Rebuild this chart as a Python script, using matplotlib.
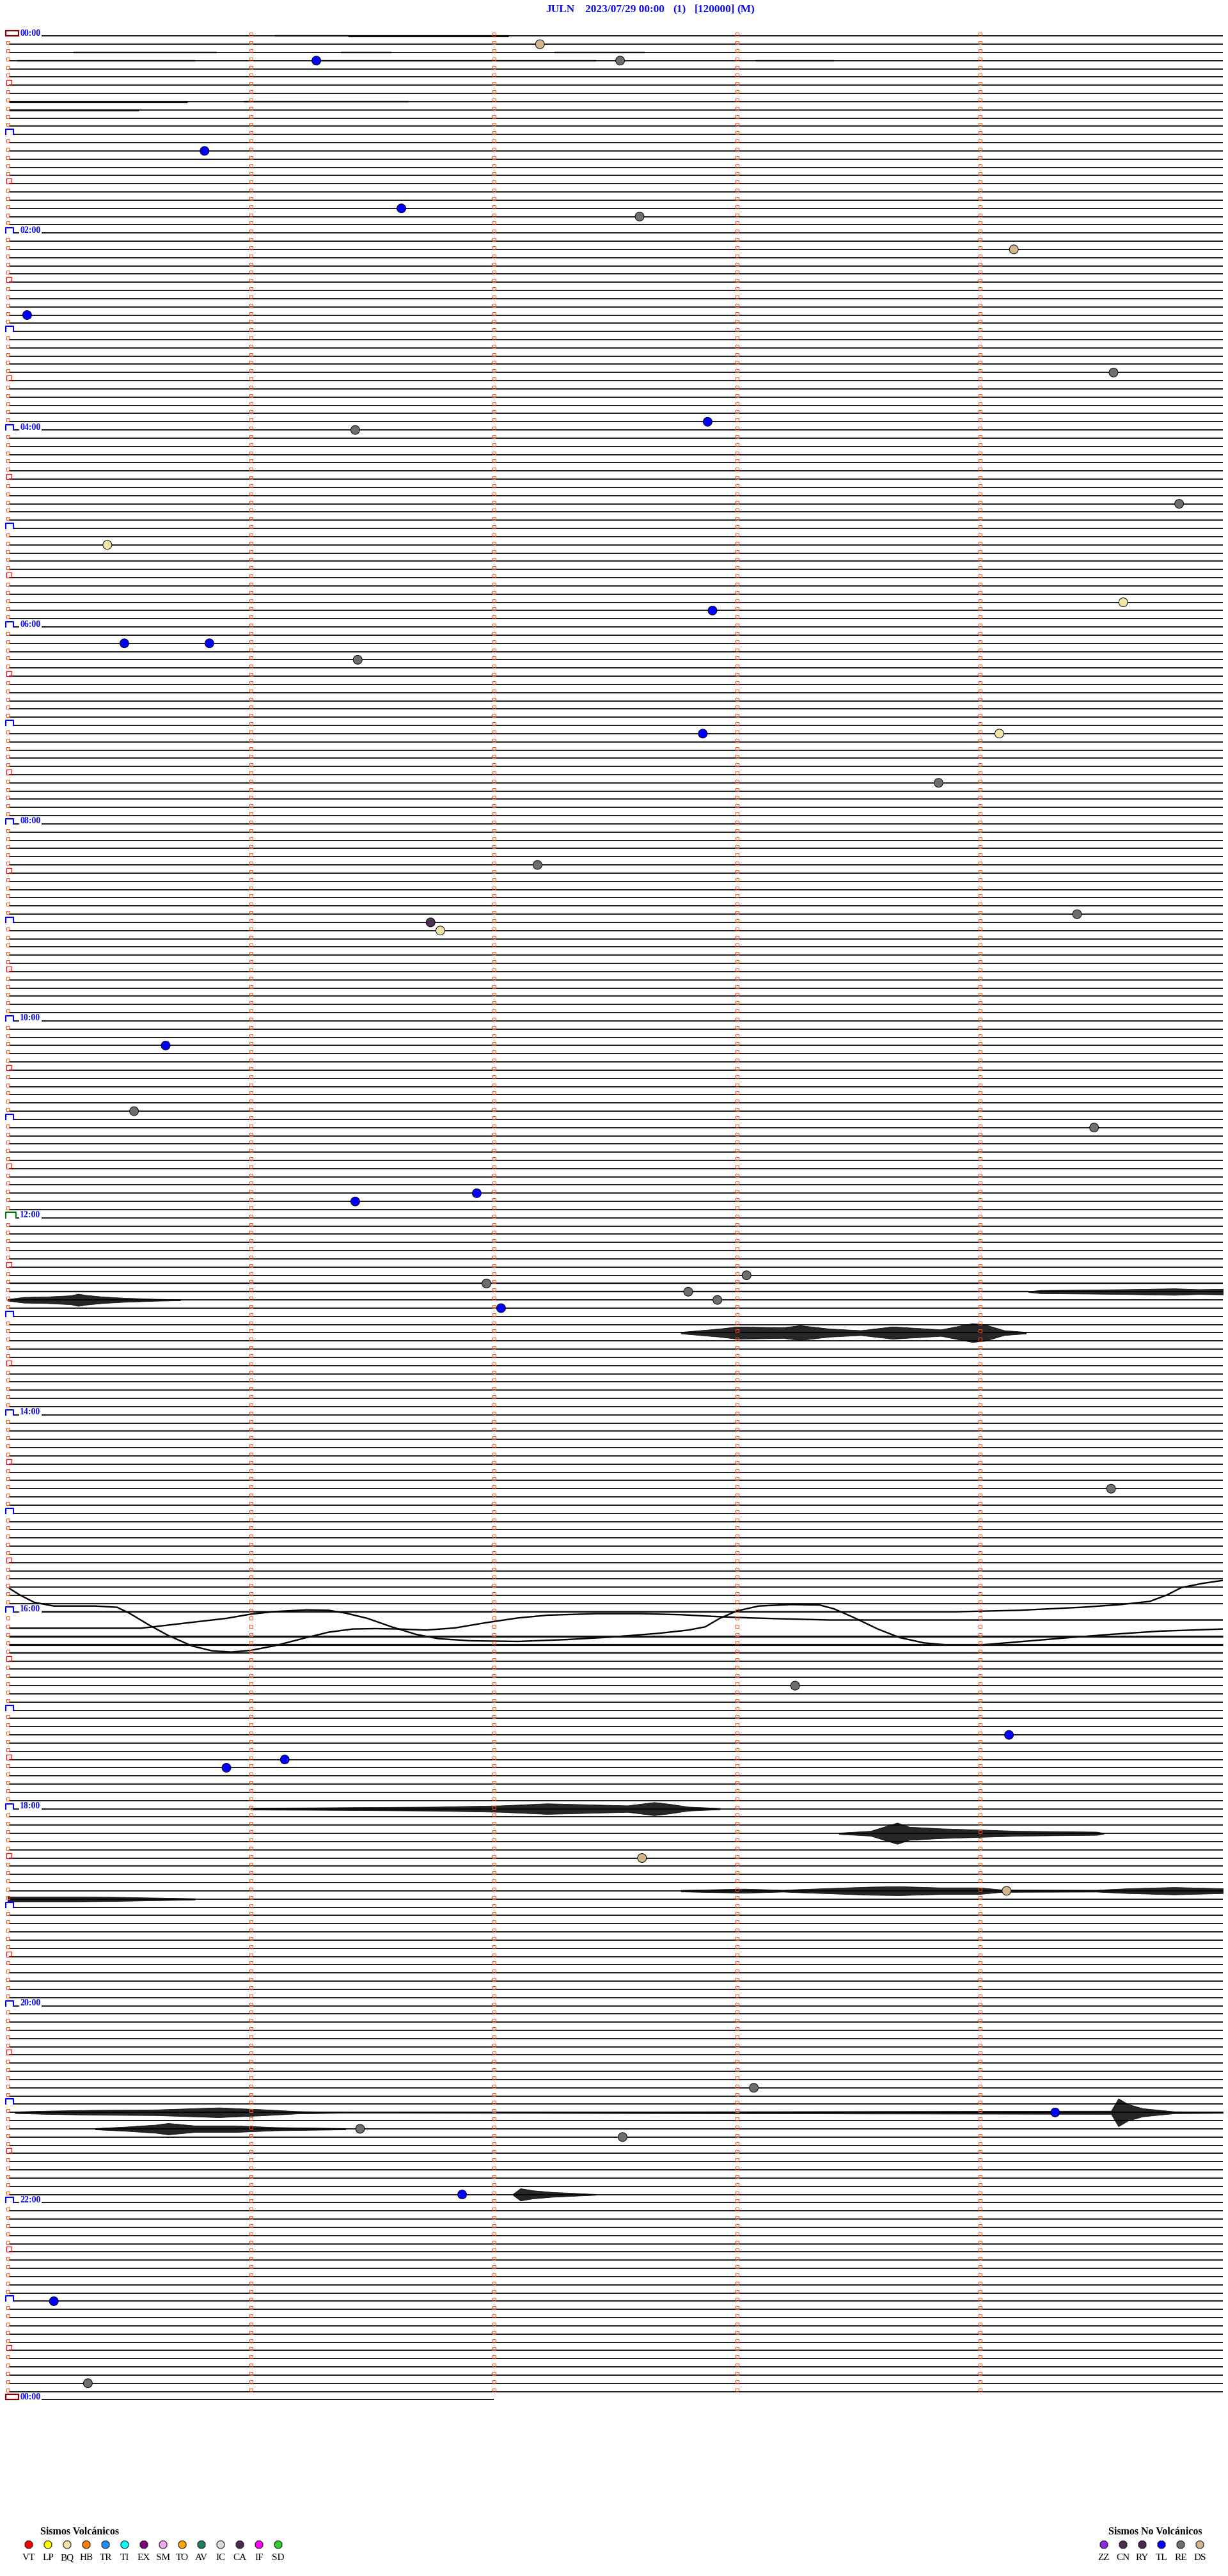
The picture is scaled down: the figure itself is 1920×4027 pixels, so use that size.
import matplotlib
matplotlib.use("Agg")
import matplotlib.pyplot as plt
from matplotlib.patches import Rectangle

# geometry of the drum (pixels of the original image)
W, H = 1920, 4027
ROW0_PX, ROW_PX = 56.3, 12.83     # y of first trace, spacing between 5-min traces
X0_PX, MIN_PX = 12.0, 380.0       # x of minute 0, pixels per minute
N_ROWS = 288                      # 24 h of 5 minute lines

title_parts = ["JULN", "2023/07/29 00:00", "(1)", "[120000]", "(M)"]
title_px = [853, 915, 1052, 1086, 1152]

hour_labels = ["00:00", "02:00", "04:00", "06:00", "08:00", "10:00", "12:00",
               "14:00", "16:00", "18:00", "20:00", "22:00", "00:00"]

# detected events: row (5-min line), minute within the line, type code
ev_rows = [1, 3, 3, 14, 21, 22, 26, 34, 41, 47, 48, 57, 62, 69, 70, 74, 74, 76,
           85, 85, 91, 101, 107, 108, 109, 123, 131, 133, 141, 142, 151, 152,
           153, 154, 155, 177, 201, 207, 210, 211, 222, 226, 250, 253, 255, 256,
           263, 276, 286]
ev_minutes = [2.19, 1.27, 2.52, 0.81, 1.62, 2.60, 4.14, 0.08, 4.55, 2.88, 1.43,
              4.82, 0.41, 4.59, 2.90, 0.48, 0.83, 1.44, 2.86, 4.08, 3.83, 2.18,
              4.40, 1.74, 1.78, 0.65, 0.52, 4.47, 1.93, 1.43, 3.04, 1.97, 2.80,
              2.92, 2.03, 4.54, 3.24, 4.12, 1.14, 0.90, 2.61, 4.11, 3.07, 4.31,
              1.45, 2.53, 1.87, 0.19, 0.33]
ev_types = ["DS", "TL", "RE", "TL", "TL", "RE", "DS", "TL", "RE", "TL", "RE",
            "RE", "BQ", "BQ", "TL", "TL", "TL", "RE", "TL", "BQ", "RE", "RE",
            "RE", "CN", "BQ", "TL", "RE", "RE", "TL", "TL", "RE", "RE", "RE",
            "RE", "TL", "RE", "RE", "TL", "TL", "TL", "DS", "DS", "RE", "TL",
            "RE", "RE", "TL", "TL", "RE"]

volc_codes = ["VT", "LP", "BQ", "HB", "TR", "TI", "EX", "SM", "TO", "AV", "IC",
              "CA", "IF", "SD"]
volc_colors = ["#ff0000", "#ffff00", "#f2e6a6", "#ff8000", "#1e90ff", "#00ffff",
               "#800080", "#eeaaee", "#ffa500", "#1e8060", "#dcdcdc", "#4b2d4b",
               "#ff00ff", "#32cd32"]
nonvolc_codes = ["ZZ", "CN", "RY", "TL", "RE", "DS"]
nonvolc_colors = ["#8a2be2", "#4b3050", "#4b2850", "#0000ff", "#6e6e6e", "#d2b48c"]

# strong signals: row -> (minutes, half amplitude in line units)
burst_rows = {
    153: ([4.2, 4.25, 4.45, 4.6, 4.8, 4.9, 5.0], [0.05, 0.2, 0.25, 0.3, 0.4, 0.3, 0.35]),
    154: ([0.0, 0.065, 0.16, 0.26, 0.29, 0.32, 0.39, 0.48, 0.61, 0.71],
          [0.1, 0.35, 0.4, 0.55, 0.75, 0.6, 0.4, 0.25, 0.12, 0.06]),
    158: ([2.77, 2.93, 3.0, 3.19, 3.26, 3.38, 3.51, 3.64, 3.84, 3.97, 4.02, 4.1, 4.19],
          [0.1, 0.5, 0.75, 0.65, 0.9, 0.5, 0.3, 0.75, 0.4, 1.15, 1.0, 0.3, 0.1]),
    216: ([1.0, 1.26, 1.5, 1.77, 2.03, 2.22, 2.42, 2.55, 2.66, 2.72, 2.8, 2.93],
          [0.12, 0.15, 0.2, 0.25, 0.4, 0.65, 0.5, 0.4, 0.8, 0.6, 0.25, 0.08]),
    219: ([3.42, 3.55, 3.66, 3.71, 3.84, 4.0, 4.16, 4.48, 4.51],
          [0.08, 0.3, 1.3, 0.8, 0.6, 0.45, 0.3, 0.2, 0.05]),
    226: ([2.77, 3.03, 3.19, 3.26, 3.55, 3.67, 3.84, 4.0, 4.09, 4.48, 4.61, 4.8, 5.0],
          [0.1, 0.25, 0.12, 0.2, 0.5, 0.55, 0.4, 0.4, 0.15, 0.12, 0.3, 0.45, 0.3]),
    227: ([0.0, 0.29, 0.45, 0.77], [0.3, 0.3, 0.25, 0.08]),
    253: ([0.03, 0.16, 0.35, 0.61, 0.87, 0.94, 1.03, 1.19, 1.39, 4.54, 4.57, 4.61,
           4.67, 4.8, 5.0],
          [0.1, 0.2, 0.3, 0.35, 0.6, 0.5, 0.4, 0.15, 0.05, 0.2, 1.7, 1.0, 0.5, 0.12, 0.08]),
    255: ([0.36, 0.48, 0.61, 0.66, 0.77, 0.94, 1.1, 1.39], [0.08, 0.25, 0.5, 0.7, 0.4, 0.4, 0.2, 0.08]),
    263: ([2.08, 2.11, 2.16, 2.24, 2.42], [0.1, 0.75, 0.5, 0.3, 0.05]),
}

# long period drift around 16:00: row -> (minutes, offset in line units)
drift_rows = {
    192: ([0.14, 3.9, 4.16, 4.42, 4.58, 4.7, 4.77, 4.83, 4.92, 5.0],
          [0.0, 0.0, -0.18, -0.55, -0.88, -1.27, -2.05, -2.96, -3.48, -3.82]),
    193: ([0.0, 0.05, 0.11, 0.19, 0.36, 0.45, 0.5, 0.58, 0.66, 0.76, 0.84, 0.92, 1.0,
           1.1, 1.23, 1.32, 1.42, 1.51, 1.61, 1.72, 1.84, 1.97, 2.1, 2.22, 2.42,
           2.61, 2.77, 2.93, 3.06, 3.19, 3.38, 5.0],
          [-3.88, -3.05, -2.14, -1.7, -1.7, -1.55, -0.84, 0.58, 1.88, 3.18, 3.75, 3.91,
           3.7, 3.13, 2.14, 1.49, 1.1, 1.05, 1.1, 1.23, 0.97, 0.32, -0.25, -0.58,
           -0.77, -0.77, -0.64, -0.4, -0.25, -0.14, 0.0, 0.0]),
    194: ([0.0, 0.55, 0.71, 0.9, 1.0, 1.1, 1.23, 1.32, 1.39, 1.48, 1.58, 1.68, 1.77,
           1.9, 2.1, 2.29, 2.48, 2.68, 2.8, 2.87, 2.93, 3.0, 3.09, 3.22, 3.34, 3.4,
           3.48, 3.58, 3.67, 3.77, 3.87, 4.0, 4.16, 4.35, 4.54, 4.74, 5.0],
          [0.0, 0.0, -0.55, -1.2, -1.71, -2.03, -2.23, -2.18, -1.84, -1.2, -0.16,
           0.75, 1.27, 1.53, 1.61, 1.4, 1.09, 0.62, 0.23, -0.16, -1.2, -2.1, -2.7,
           -2.88, -2.83, -2.36, -1.32, 0.1, 1.14, 1.79, 2.05, 2.05, 1.66, 1.19, 0.75,
           0.36, 0.1]),
}

# background noise bands: row -> list of (start minute, end minute, level)
noise_rows = {
    0: [(1.1, 1.4, 1), (1.4, 2.06, 2)],
    2: [(0.27, 0.86, 1), (1.37, 1.58, 1), (2.25, 2.62, 1)],
    3: [(0.04, 0.77, 1), (1.26, 2.42, 1), (3.08, 3.4, 1)],
    8: [(0.0, 0.74, 2), (0.97, 1.65, 1)],
    9: [(0.0, 0.54, 2)],
    152: [(0.0, 5.0, 1)],
    153: [(0.0, 4.2, 1)],
    195: [(0.0, 5.0, 2)],
    196: [(0.0, 5.0, 2)],
    197: [(0.0, 5.0, 1)],
}

BG = "white"
TRACE = "black"
LABEL_BLUE = "#1010ee"
SERIF = ["Liberation Serif", "DejaVu Serif"]


def px_to_min(px):
    return (px - X0_PX) / MIN_PX


def px_to_row(py):
    return (py - ROW0_PX) / ROW_PX


fig = plt.figure(figsize=(W / 100, H / 100), dpi=100, facecolor=BG)
ax = fig.add_axes([0, 0, 1, 1])
ax.set_xlim(px_to_min(0), px_to_min(W))
ax.set_ylim(px_to_row(H), px_to_row(0))
ax.axis("off")

dm = 1.0 / MIN_PX      # one pixel in minutes
dr = 1.0 / ROW_PX      # one pixel in rows
base_lw = 1.25

# traces
for r in range(N_ROWS + 1):
    if r % 24 == 0:
        start = px_to_min(65)
    elif r % 12 == 0:
        start = px_to_min(22)
    else:
        start = px_to_min(14)
    end = 5.0 if r < N_ROWS else 2.0
    if r in drift_rows:
        xs, offs = drift_rows[r]
        ax.plot([max(x, start) for x in xs], [r + o for o in offs], color=TRACE,
                lw=1.7, solid_capstyle="butt", zorder=3)
    else:
        ax.plot([start, end], [r, r], color=TRACE, lw=base_lw,
                solid_capstyle="butt", zorder=3)
    for m0, m1, lev in noise_rows.get(r, []):
        ax.plot([max(m0, start), m1], [r, r], color="#111111",
                lw=1.7 if lev == 1 else 2.3, solid_capstyle="butt", zorder=3)
    if r in burst_rows:
        xs, amp = burst_rows[r]
        ax.fill_between(xs, [r - a for a in amp], [r + a for a in amp],
                        color=TRACE, alpha=0.85, lw=0.6, zorder=3)

# minute ticks (small open squares sitting on each line)
sq_w, sq_h = 5 * dm, 5 * dr
for r in range(N_ROWS):
    for m in range(1, 5):
        ax.add_patch(Rectangle((m - sq_w / 2, r - sq_h), sq_w, sq_h, fill=False,
                               ec="#ff4a1a", lw=0.75, zorder=4))

# left margin markers
bx0 = px_to_min(9)
for r in range(N_ROWS + 1):
    if r % N_ROWS == 0:
        ax.add_patch(Rectangle((bx0, r - 8 * dr), 20 * dm, 8 * dr, fill=False,
                               ec="#8b0000", lw=1.6, zorder=4))
    elif r == 144:
        ax.plot([bx0, bx0, bx0 + 16 * dm, bx0 + 16 * dm], [r, r - 9 * dr, r - 9 * dr, r],
                color="#008000", lw=1.5, zorder=4)
        ax.plot([bx0 + 16 * dm, px_to_min(29)], [r, r], color=TRACE, lw=base_lw, zorder=3)
    elif r % 12 == 0:
        ax.plot([bx0, bx0, bx0 + 12 * dm, bx0 + 12 * dm], [r, r - 8 * dr, r - 8 * dr, r],
                color="#0000ff", lw=1.5, zorder=4)
        if r % 24 == 0:
            ax.plot([bx0 + 12 * dm, px_to_min(29)], [r, r], color=TRACE, lw=base_lw, zorder=3)
    elif r % 12 == 6:
        ax.add_patch(Rectangle((px_to_min(10), r - 8 * dr), 8 * dm, 8 * dr, fill=False,
                               ec="#ff0000", lw=0.9, zorder=4))
    else:
        ax.add_patch(Rectangle((px_to_min(10), r - sq_h), sq_w, sq_h, fill=False,
                               ec="#ff4a1a", lw=0.75, zorder=4))
    if r % 24 == 0:
        ax.text(px_to_min(31), r - 0.5 * dr, hour_labels[r // 24], color=LABEL_BLUE,
                fontsize=10, fontweight="bold", family=SERIF, va="baseline",
                ha="left", zorder=5)

# events
type_color = dict(zip(volc_codes + nonvolc_codes, volc_colors + nonvolc_colors))
ax.scatter(ev_minutes, ev_rows, s=100, c=[type_color[t] for t in ev_types],
           edgecolors="black", linewidths=0.7, zorder=6)

# title
for part, x in zip(title_parts, title_px):
    fig.text(x / W, 1 - 19 / H, part, color=LABEL_BLUE, fontsize=12.5,
             fontweight="bold", family=SERIF, ha="left", va="baseline")

# legends
lg = fig.add_axes([0, 0, 1, 1], facecolor="none")
lg.set_xlim(0, W)
lg.set_ylim(H, 0)
lg.axis("off")

lg.text(63, 3962, "Sismos Volcánicos", fontsize=11.5, fontweight="bold",
        family=SERIF, ha="left", va="baseline")
vx = [45 + 30 * i for i in range(len(volc_codes))]
lg.scatter(vx, [3978] * len(vx), s=85, c=volc_colors, marker="8",
           edgecolors="black", linewidths=0.7)
for x, code in zip(vx, volc_codes):
    lg.text(x, 4002, code, fontsize=11, family=SERIF, ha="center", va="baseline")

lg.text(1733, 3962, "Sismos No Volcánicos", fontsize=11.5, fontweight="bold",
        family=SERIF, ha="left", va="baseline")
nx = [1726 + 30 * i for i in range(len(nonvolc_codes))]
lg.scatter(nx, [3978] * len(nx), s=85, c=nonvolc_colors, marker="8",
           edgecolors="black", linewidths=0.7)
for x, code in zip(nx, nonvolc_codes):
    lg.text(x, 4002, code, fontsize=11, family=SERIF, ha="center", va="baseline")

fig.savefig("out.png", dpi=100, facecolor=BG)
